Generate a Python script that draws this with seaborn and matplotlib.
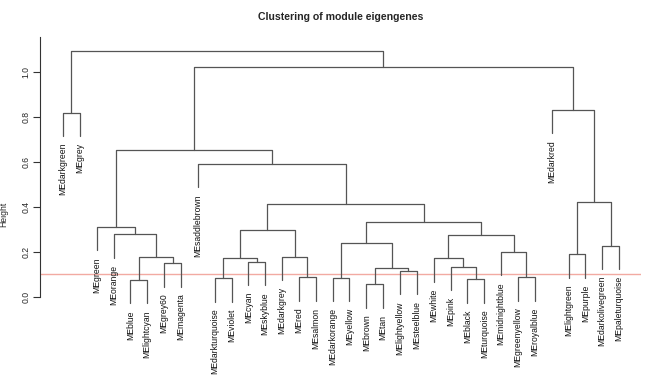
import matplotlib
matplotlib.use("Agg")
import matplotlib.pyplot as plt
import seaborn as sns
import pandas as pd

# ---- data ----
leaf_labels = ["MEdarkgreen", "MEgrey", "MEgreen", "MEorange", "MEblue", "MElightcyan",
               "MEgrey60", "MEmagenta", "MEsaddlebrown", "MEdarkturquoise", "MEviolet",
               "MEcyan", "MEskyblue", "MEdarkgrey", "MEred", "MEsalmon", "MEdarkorange",
               "MEyellow", "MEbrown", "MEtan", "MElightyellow", "MEsteelblue", "MEwhite",
               "MEpink", "MEblack", "MEturquoise", "MEmidnightblue", "MEgreenyellow",
               "MEroyalblue", "MEdarkred", "MElightgreen", "MEpurple", "MEdarkolivegreen",
               "MEpaleturquoise"]

# merges: children are leaf names or indices (1-based) of earlier merges
merge_left = ["MEdarkgreen", "MEblue", "MEgrey60", 2, "MEorange", "MEgreen",
              "MEdarkturquoise", "MEcyan", 7, "MEred", "MEdarkgrey", 9,
              "MEdarkorange", "MEbrown", "MElightyellow", 14, 13, "MEblack",
              "MEpink", "MEwhite", "MEgreenyellow", "MEmidnightblue", 20, 17,
              12, "MEsaddlebrown", 6, "MElightgreen", "MEdarkolivegreen", 28,
              "MEdarkred", 27, 1]
merge_right = ["MEgrey", "MElightcyan", "MEmagenta", 3, 4, 5,
               "MEviolet", "MEskyblue", 8, "MEsalmon", 10, 11,
               "MEyellow", "MEtan", "MEsteelblue", 15, 16, "MEturquoise",
               18, 19, "MEroyalblue", 21, 22, 23,
               24, 25, 26, "MEpurple", "MEpaleturquoise", 29,
               30, 31, 32]
merge_height = [0.818, 0.074, 0.148, 0.175, 0.277, 0.311,
                0.082, 0.156, 0.171, 0.086, 0.178, 0.296,
                0.084, 0.055, 0.114, 0.126, 0.237, 0.077,
                0.133, 0.171, 0.086, 0.200, 0.274, 0.333,
                0.412, 0.591, 0.651, 0.188, 0.227, 0.419,
                0.830, 1.022, 1.093]

cut_height = 0.1
y_ticks = [0.0, 0.2, 0.4, 0.6, 0.8, 1.0]

# ---- build dendrogram segments ----
hang = 0.1 * (max(merge_height) - min(merge_height))
leaf_x = {name: i + 1 for i, name in enumerate(leaf_labels)}
merge_x = []
segs = []
leaf_bottom = {}

def child_pos(c, h):
    if isinstance(c, str):
        leaf_bottom[c] = h - hang
        return leaf_x[c], h - hang
    return merge_x[c - 1], merge_height[c - 1]

for k, (l, r, h) in enumerate(zip(merge_left, merge_right, merge_height)):
    xl, yl = child_pos(l, h)
    xr, yr = child_pos(r, h)
    merge_x.append((xl + xr) / 2)
    segs.append([(xl, yl), (xl, h), (xr, h), (xr, yr)])

rows = []
for sid, pts in enumerate(segs):
    for order, (x, y) in enumerate(pts):
        rows.append({"seg": sid, "order": order, "x": x, "y": y})
df = pd.DataFrame(rows)

# ---- plot ----
sns.set_style("white")
plt.rcParams["font.family"] = ["Liberation Sans", "DejaVu Sans"]

W, H = 650, 382
fig = plt.figure(figsize=(W / 100, H / 100), dpi=100)
ax_left, ax_right, ax_top, ax_bot = 40, 641, 37, 330
ax = fig.add_axes([ax_left / W, 1 - ax_bot / H, (ax_right - ax_left) / W, (ax_bot - ax_top) / H])

sns.lineplot(data=df, x="x", y="y", units="seg", estimator=None, sort=False,
             color="#555555", linewidth=0.9, ax=ax, legend=False)

ax.axhline(cut_height, color="#f2aaa2", linewidth=1.0, zorder=0)

for name in leaf_labels:
    ax.annotate(name, xy=(leaf_x[name], leaf_bottom[name]), xytext=(0, -5),
                textcoords="offset points", rotation=90, ha="center", va="top",
                fontsize=6.2, color="#111111", annotation_clip=False)

ax.set_xlim(1 - 23 / 16.85, 1 + (641 - 63) / 16.85)
ax.set_ylim((296.7 - ax_bot) / 225, (296.7 - ax_top) / 225)
ax.set_xticks([])
ax.set_yticks(y_ticks)
ax.set_yticklabels([f"{t:.1f}" for t in y_ticks], rotation=90, va="center", fontsize=6.2)
ax.tick_params(axis="y", length=5, width=0.8, pad=2, color="#333333", left=True)
for s in ["top", "right", "bottom"]:
    ax.spines[s].set_visible(False)
ax.spines["left"].set_bounds(0, (296.7 - ax_top) / 225)
ax.spines["left"].set_color("#333333")
ax.spines["left"].set_linewidth(0.8)
ax.set_xlabel("")
ax.set_ylabel("")

fig.text(4 / W, 1 - 214 / H, "Height", rotation=90, ha="center", va="center", fontsize=6.2)
fig.text(341 / W, 1 - 17 / H, "Clustering of module eigengenes", ha="center", va="center",
         fontsize=7.6, fontweight="bold")

fig.savefig("out.png", dpi=100)
